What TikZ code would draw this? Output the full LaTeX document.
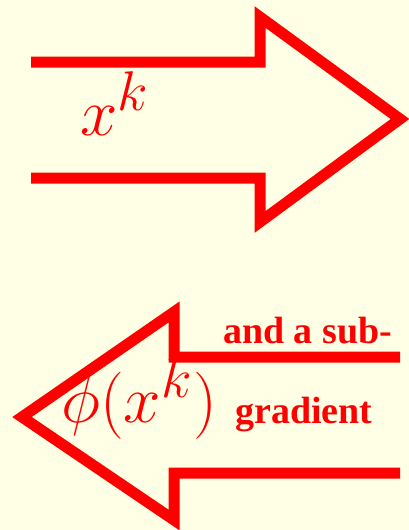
\documentclass[tikz,border=0pt]{standalone}
\usepackage{fontspec}
\setmainfont{Liberation Serif}
\definecolor{paper}{RGB}{255,255,230}
\tikzset{bigarrow/.style={draw=red,line width=11pt,miter limit=10},
  mathlbl/.style={text=red,inner sep=0pt,font=\Huge},
  wordlbl/.style={text=red,inner sep=0pt,font=\fontsize{38}{44}\selectfont\bfseries}}
\newcommand{\bigmath}[1]{\scalebox{2.7}{$#1$}}
\begin{document}
\begin{tikzpicture}[x=1pt,y=-1pt]
\fill[paper] (0,0) rectangle (409,530);
\useasboundingbox (0,0) rectangle (409,530);

% forward arrow
\draw[bigarrow] (31,62) -- (260,62) -- (260,17) -- (400,119) -- (260,222) -- (260,178) -- (31,178);
\node[mathlbl,anchor=base west] (xk) at (80,135) {\bigmath{x^k}};

% backward arrow
\draw[bigarrow] (400,357) -- (174,357) -- (174,312) -- (22,417) -- (174,520) -- (174,473) -- (400,473);
\node[mathlbl,anchor=base west] (phixk) at (61,422) {\bigmath{\phi(x^k)}};
\node[wordlbl,anchor=base west] (sub) at (223,343) {and a sub-};
\node[wordlbl,anchor=base west] (grad) at (235,423) {gradient};
\end{tikzpicture}
\end{document}
